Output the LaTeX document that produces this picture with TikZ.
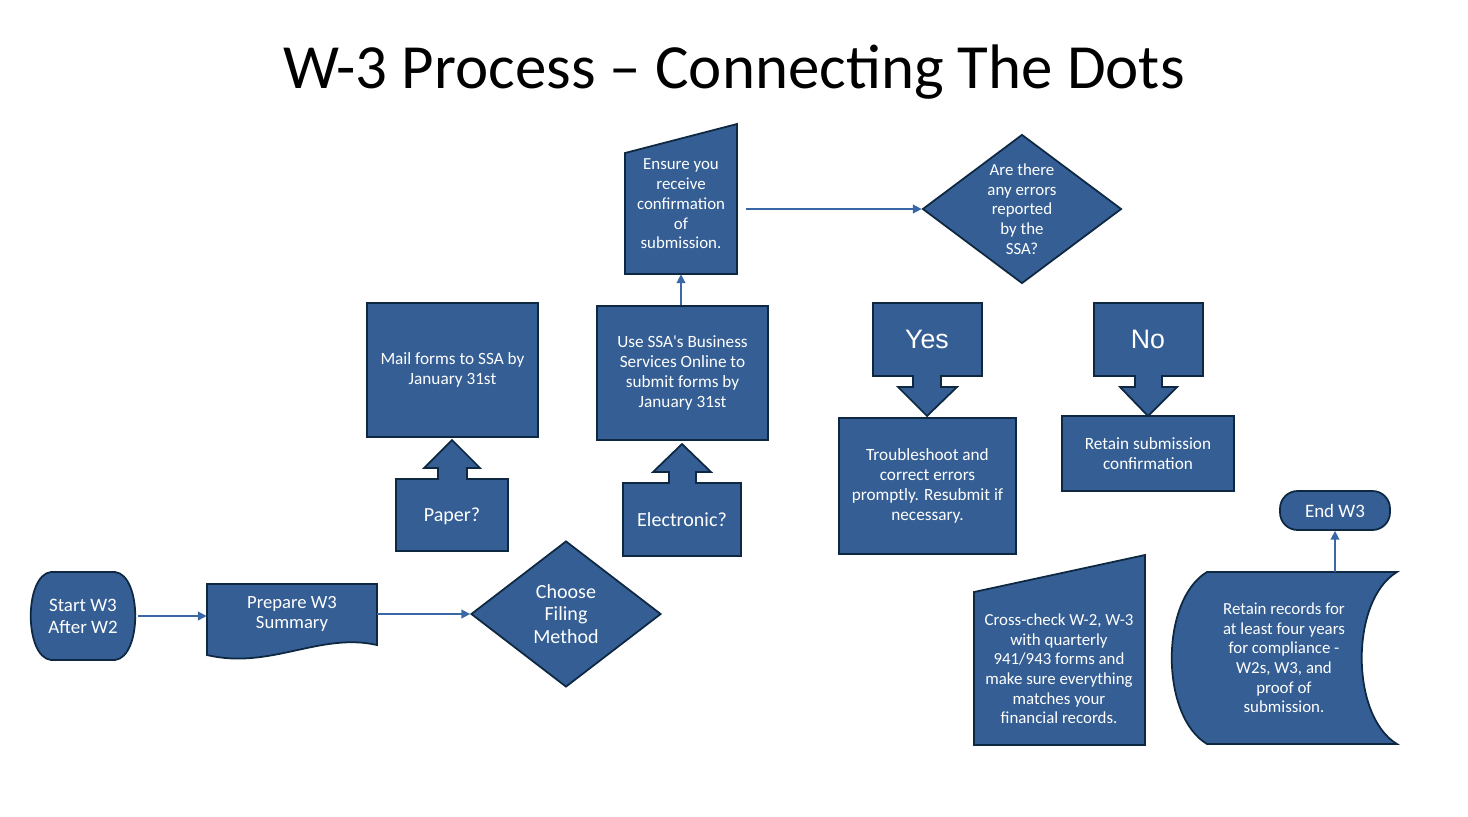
\documentclass[tikz,border=0pt]{standalone}
\usepackage{fontspec}
\setmainfont{Carlito}
\newfontfamily\yesnofont{Liberation Sans}
\usepackage{xcolor}
\usepackage{tikz}
\usetikzlibrary{shapes.geometric, arrows.meta, positioning, calc}
\definecolor{boxblue}{HTML}{345E94}
\definecolor{edgeblue}{HTML}{0E2841}
\definecolor{linkblue}{HTML}{3A68A6}
\tikzstyle{startstop} = [rectangle, rounded corners=16pt, text centered, align=center, draw=edgeblue, line width=1pt, fill=boxblue, text=white, font=\fontsize{10.8}{12.6}\selectfont]
\tikzstyle{process} = [rectangle, text centered, align=center, draw=edgeblue, line width=1pt, fill=boxblue, text=white, font=\fontsize{9.8}{11.5}\selectfont]
\tikzstyle{decision} = [diamond, aspect=1.33, inner sep=0pt, text centered, align=center, draw=edgeblue, line width=1pt, fill=boxblue, text=white, font=\fontsize{9.6}{11.2}\selectfont]
\tikzstyle{shapefill} = [draw=edgeblue, line width=1pt, fill=boxblue]
\tikzstyle{label} = [text centered, align=center, text=white, font=\fontsize{9.6}{11.2}\selectfont]
\tikzstyle{arrow} = [draw=linkblue, line width=0.9pt, -{Triangle[length=5pt,width=5pt]}]

\begin{document}
\begin{tikzpicture}[x=0.02cm, y=-0.02cm]
    \useasboundingbox (0,0) rectangle (1468,816);
    \node (title) at (734,72) {\fontsize{35.8}{42}\selectfont W-3 Process – Connecting The Dots};

    % start and summary
    \draw [shapefill] (51,572) -- (115,572) .. controls (142,575) and (142,657) .. (115,660) -- (51,660) .. controls (24,657) and (24,575) .. (51,572) -- cycle;
    \node (start) [label, font=\fontsize{10.8}{12.6}\selectfont, minimum width=2.2cm, minimum height=1.76cm] at (83,616) {Start W3\\After W2};
    \draw [shapefill] (207,584) -- (377,584) -- (377,645) .. controls (320,632) and (270,670) .. (207,655) -- cycle;
    \node (prep) [label, font=\fontsize{10.6}{11.8}\selectfont, minimum width=3.4cm, minimum height=1.5cm] at (292,614) {Prepare W3\\Summary};
    \node (choose) [decision, font=\fontsize{11.4}{12.6}\selectfont, minimum width=3.8cm, minimum height=2.92cm] at (566,614) {Choose\\Filing\\Method};

    % paper / electronic
    \draw [shapefill] (396,551) -- (396,479) -- (438,479) -- (438,468) -- (424,468) -- (452,440) -- (480,468) -- (467,468) -- (467,479) -- (508,479) -- (508,551) -- cycle;
    \node (paper) [label, font=\fontsize{11.4}{12.6}\selectfont] at (452,516) {Paper?};
    \node (mail) [process, minimum width=3.42cm, minimum height=2.68cm] at (452.5,370) {Mail forms to SSA by\\January 31st};
    \draw [shapefill] (623,556) -- (623,483) -- (669,483) -- (669,472) -- (653,472) -- (682,444) -- (711,472) -- (696,472) -- (696,483) -- (741,483) -- (741,556) -- cycle;
    \node (elec) [label, font=\fontsize{11.4}{12.6}\selectfont] at (682,520) {Electronic?};
    \node (ssa) [process, minimum width=3.42cm, minimum height=2.68cm] at (682.5,373) {Use SSA\textquotesingle s Business\\Services Online to\\submit forms by\\January 31st};

    % confirmation
    \draw [shapefill] (625,153) -- (737,124) -- (737,274) -- (625,274) -- cycle;
    \node (ensure) [label, minimum width=2.24cm, minimum height=2.8cm] at (681,204) {Ensure you\\receive\\confirmation\\of\\submission.};
    \node (errq) [decision, minimum width=3.98cm, minimum height=2.98cm] at (1022,209) {Are there\\any errors\\reported\\by the\\SSA?};

    % yes / no
    \draw [shapefill] (873,303) -- (982,303) -- (982,376) -- (941,376) -- (941,387) -- (957,387) -- (927,416) -- (898,387) -- (913,387) -- (913,376) -- (873,376) -- cycle;
    \node (yes) [label, font=\yesnofont\fontsize{15.2}{18}\selectfont] at (927,339) {Yes};
    \draw [shapefill] (1094,303) -- (1203,303) -- (1203,376) -- (1162,376) -- (1162,387) -- (1177,387) -- (1148,416) -- (1120,387) -- (1135,387) -- (1135,376) -- (1094,376) -- cycle;
    \node (no) [label, font=\yesnofont\fontsize{15.2}{18}\selectfont] at (1148,339) {No};
    \node (fix) [process, minimum width=3.54cm, minimum height=2.72cm] at (927.5,486) {Troubleshoot and\\correct errors\\promptly. Resubmit if\\necessary.};
    \node (keep) [process, minimum width=3.44cm, minimum height=1.5cm] at (1148,453.5) {Retain submission\\confirmation};

    % final checks
    \draw [shapefill] (974,592) -- (1145,555) -- (1145,745) -- (974,745) -- cycle;
    \node (cross) [label] at (1059,669) {Cross-check W-2, W-3\\with quarterly\\941/943 forms and\\make sure everything\\matches your\\financial records.};
    \draw [shapefill] (1207,572) -- (1397,572) .. controls (1350,600) and (1350,716) .. (1397,744) -- (1207,744) .. controls (1160,716) and (1160,600) .. (1207,572) -- cycle;
    \node (records) [label, minimum width=3cm, minimum height=3.44cm] at (1284,658) {Retain records for\\at least four years\\for compliance -\\W2s, W3, and\\proof of\\submission.};
    \node (endw) [startstop, rounded corners=10pt, minimum width=2.2cm, minimum height=0.78cm] at (1335,510.5) {End W3};

    \draw [arrow] (start.east) -- (start.east -| prep.west);
    \draw [arrow] (prep.east) -- (choose.west);
    \draw [arrow] (ssa.north -| ensure.south) -- (ensure.south);
    \draw [arrow, shorten <=5pt] (ensure.east |- errq.west) -- (errq.west);
    \draw [arrow] (records.north -| endw.south) -- (endw.south);
\end{tikzpicture}
\end{document}
